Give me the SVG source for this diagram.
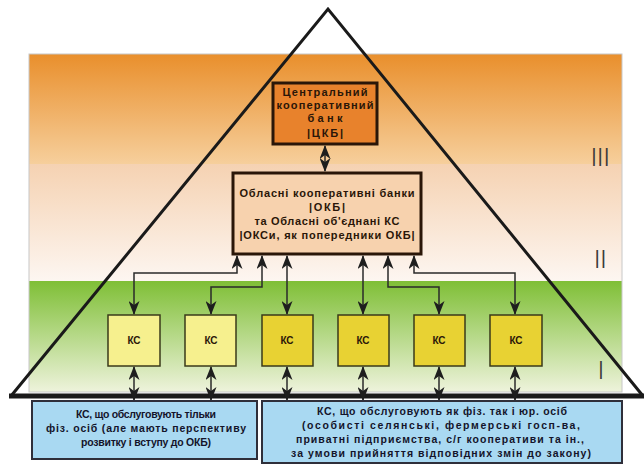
<svg xmlns="http://www.w3.org/2000/svg" width="644" height="469" viewBox="0 0 644 469">
<defs>
<linearGradient id="g3" x1="0" y1="0" x2="0" y2="1">
<stop offset="0" stop-color="#e98f2c"/>
<stop offset="1" stop-color="#f6cf9c"/>
</linearGradient>
<linearGradient id="g2" x1="0" y1="0" x2="0" y2="1">
<stop offset="0" stop-color="#f5d2b2"/>
<stop offset="1" stop-color="#fdf6f1"/>
</linearGradient>
<linearGradient id="g1" x1="0" y1="0" x2="0" y2="1">
<stop offset="0" stop-color="#7fbf36"/>
<stop offset="1" stop-color="#eef3dc"/>
</linearGradient>
<marker id="ah" viewBox="0 0 14 11" refX="13" refY="5.5" markerWidth="14" markerHeight="11" markerUnits="userSpaceOnUse" orient="auto-start-reverse">
<path d="M0,0 L14,5.5 L0,11 L4,5.5 Z" fill="#1e1e1e"/>
</marker>
<style>
.t{font-family:"Liberation Sans","DejaVu Sans",sans-serif;font-weight:bold;fill:#2a1608;text-anchor:middle}
.tb{font-family:"Liberation Sans","DejaVu Sans",sans-serif;font-weight:bold;fill:#14142a;text-anchor:middle;font-size:10.5px}
.kc{stroke:#3a3a1a;stroke-width:1.5}
.c{fill:none;stroke:#2a2a2a;stroke-width:1.5;marker-start:url(#ah);marker-end:url(#ah)}
.rn{font-family:"Liberation Sans","DejaVu Sans",sans-serif;font-size:25px;fill:#3a3a3a;text-anchor:middle}
.bx{fill:#a9d9f2;stroke:#2f2f3a;stroke-width:2}
</style>
</defs>
<g id="background">
<rect x="29" y="54" width="593" height="110" fill="url(#g3)"/>
<rect x="29" y="164" width="593" height="117" fill="url(#g2)"/>
<rect x="29" y="281" width="593" height="111" fill="url(#g1)"/>
<rect x="29" y="54" width="593" height="338" fill="none" stroke="#c8c8c8" stroke-width="1"/>
</g>
<g id="levels">
<text class="rn" transform="translate(601,166) scale(0.7,1)" letter-spacing="2">III</text>
<text class="rn" transform="translate(601,268) scale(0.7,1)" letter-spacing="2">II</text>
<text class="rn" transform="translate(601,379) scale(0.7,1)">I</text>
</g>
<g id="pyramid">
<polyline points="11,396 328,9 643,396" fill="none" stroke="#1a1a1a" stroke-width="3" stroke-linejoin="miter"/>
<line x1="9" y1="396" x2="644" y2="396" stroke="#1a1a1a" stroke-width="5"/>
</g>
<g id="connectors">
<line class="c" x1="325" y1="146" x2="325" y2="171"/>
<polyline class="c" points="237,256 237,273 134,273 134,314"/>
<polyline class="c" points="262,256 262,287 211,287 211,314"/>
<line class="c" x1="287" y1="256" x2="287" y2="314"/>
<line class="c" x1="363" y1="256" x2="363" y2="314"/>
<polyline class="c" points="388,256 388,287 439,287 439,314"/>
<polyline class="c" points="414,256 414,273 515,273 515,314"/>
<line class="c" x1="134" y1="367" x2="134" y2="400"/>
<line class="c" x1="211" y1="367" x2="211" y2="400"/>
<line class="c" x1="287" y1="367" x2="287" y2="400"/>
<line class="c" x1="363" y1="367" x2="363" y2="400"/>
<line class="c" x1="439" y1="367" x2="439" y2="400"/>
<line class="c" x1="515" y1="367" x2="515" y2="400"/>
</g>
<g id="ckb">
<rect x="273" y="83" width="104" height="61" fill="#e8822c" stroke="#2a1608" stroke-width="3"/>
<text class="t" font-size="11" x="325" y="96" textLength="85" lengthAdjust="spacing">Центральний</text>
<text class="t" font-size="11" x="325" y="109" textLength="97" lengthAdjust="spacing">кооперативний</text>
<text class="t" font-size="11" x="325" y="122" textLength="35" lengthAdjust="spacing">банк</text>
<text class="t" font-size="11" x="325" y="137" textLength="36" lengthAdjust="spacing">|ЦКБ|</text>
</g>
<g id="okb">
<rect x="233" y="173" width="188" height="81" fill="#f7d2ae" stroke="#2a1608" stroke-width="3"/>
<text class="t" font-size="11" x="327" y="197" textLength="175" lengthAdjust="spacing">Обласні кооперативні банки</text>
<text class="t" font-size="11" x="327" y="211" textLength="36" lengthAdjust="spacing">|ОКБ|</text>
<text class="t" font-size="11" x="327" y="225" textLength="145" lengthAdjust="spacing">та Обласні об'єднані КС</text>
<text class="t" font-size="11" x="327" y="239" textLength="175" lengthAdjust="spacing">|ОКСи, як попередники ОКБ|</text>
</g>
<g id="kc1"><rect class="kc" x="108" y="315" width="52" height="51" fill="#f6f08e"/><text class="t" font-size="10" x="134" y="344">КС</text></g>
<g id="kc2"><rect class="kc" x="185" y="315" width="51" height="51" fill="#f6f08e"/><text class="t" font-size="10" x="211" y="344">КС</text></g>
<g id="kc3"><rect class="kc" x="262" y="315" width="51" height="51" fill="#e8d233"/><text class="t" font-size="10" x="287" y="344">КС</text></g>
<g id="kc4"><rect class="kc" x="338" y="315" width="51" height="51" fill="#e8d233"/><text class="t" font-size="10" x="363" y="344">КС</text></g>
<g id="kc5"><rect class="kc" x="414" y="315" width="51" height="51" fill="#e8d233"/><text class="t" font-size="10" x="439" y="344">КС</text></g>
<g id="kc6"><rect class="kc" x="490" y="315" width="52" height="51" fill="#e8d233"/><text class="t" font-size="10" x="516" y="344">КС</text></g>
<g id="ks-fiz">
<rect class="bx" x="32" y="401" width="225" height="58"/>
<text class="tb" x="146" y="418" textLength="140" lengthAdjust="spacing">КС, що обслуговують тільки</text>
<text class="tb" x="146" y="432" textLength="200" lengthAdjust="spacing">фіз. осіб (але мають перспективу</text>
<text class="tb" x="146" y="446" textLength="130" lengthAdjust="spacing">розвитку і вступу до ОКБ)</text>
</g>
<g id="ks-all">
<rect class="bx" x="262" y="401" width="360" height="62"/>
<text class="tb" x="442" y="415" textLength="250" lengthAdjust="spacing">КС, що обслуговують як фіз. так і юр. осіб</text>
<text class="tb" x="441" y="429" textLength="278" lengthAdjust="spacing">(особисті селянські, фермерські госп-ва,</text>
<text class="tb" x="440" y="443" textLength="288" lengthAdjust="spacing">приватні підприємства, с/г кооперативи та ін.,</text>
<text class="tb" x="441" y="457" textLength="300" lengthAdjust="spacing">за умови прийняття відповідних змін до закону)</text>
</g>
</svg>
